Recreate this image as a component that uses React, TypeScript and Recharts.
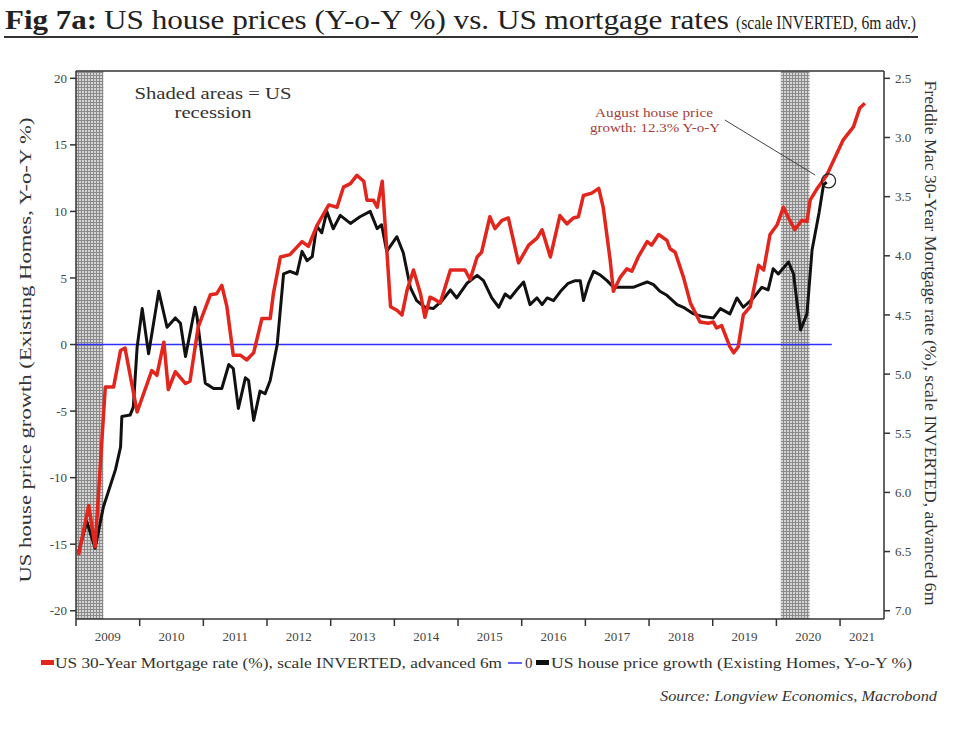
import React from "react";
import {
  LineChart,
  Line,
  XAxis,
  YAxis,
  ReferenceArea,
  ReferenceLine,
  ReferenceDot,
} from "recharts";

// ---------- data ----------
// US house price growth (Existing Homes, Y-o-Y %), left axis
const houseDates = [
  2009.04, 2009.17, 2009.30, 2009.43, 2009.62, 2009.70, 2009.72, 2009.85, 2009.90, 2009.96,
  2010.04, 2010.14, 2010.30, 2010.43, 2010.56, 2010.64, 2010.72, 2010.87, 2010.90,
  2011.03, 2011.16, 2011.29, 2011.40, 2011.47, 2011.55, 2011.66, 2011.71, 2011.79, 2011.89, 2011.97,
  2012.05, 2012.16, 2012.26, 2012.36, 2012.47, 2012.55, 2012.63, 2012.71, 2012.78, 2012.86, 2012.94,
  2013.04, 2013.15, 2013.31, 2013.46, 2013.62, 2013.73, 2013.80, 2013.88,
  2014.04, 2014.14, 2014.25, 2014.35, 2014.48, 2014.61, 2014.75, 2014.88, 2014.98,
  2015.14, 2015.30, 2015.40, 2015.53, 2015.64, 2015.74, 2015.82, 2015.92,
  2016.03, 2016.13, 2016.24, 2016.32, 2016.40, 2016.50, 2016.61, 2016.73, 2016.84, 2016.92, 2016.97,
  2017.05, 2017.13, 2017.24, 2017.34, 2017.44, 2017.60, 2017.75, 2017.86, 2017.97,
  2018.07, 2018.17, 2018.28, 2018.44, 2018.54, 2018.70, 2018.85,
  2019.01, 2019.12, 2019.27, 2019.38, 2019.48, 2019.64, 2019.77, 2019.87, 2019.95,
  2020.03, 2020.19, 2020.27, 2020.32, 2020.38, 2020.48, 2020.56, 2020.67, 2020.74, 2020.79,
];
const houseValues = [
  -15.6, -13.3, -15.3, -12.2, -9.4, -7.7, -5.4, -5.3, -4.7, -0.2,
  2.7, -0.7, 4.0, 1.3, 2.0, 1.6, -0.9, 2.8, 2.1,
  -2.9, -3.3, -3.3, -1.5, -1.8, -4.8, -2.5, -2.7, -5.7, -3.5, -3.7,
  -2.7, 0.0, 5.3, 5.5, 5.3, 7.0, 6.3, 6.6, 8.9, 8.4, 10.0,
  8.7, 9.7, 9.1, 9.6, 10.0, 8.7, 9.0, 7.0,
  8.1, 6.9, 4.3, 3.3, 2.8, 2.7, 3.3, 4.1, 3.5,
  4.6, 5.2, 4.8, 3.5, 2.8, 3.8, 3.5, 4.1,
  4.7, 3.0, 3.5, 3.0, 3.5, 3.3, 4.0, 4.6, 4.8, 4.8, 3.3,
  4.6, 5.5, 5.2, 4.8, 4.3, 4.3, 4.3, 4.5, 4.7,
  4.5, 4.0, 3.7, 3.0, 2.8, 2.3, 2.1,
  2.0, 2.7, 2.3, 3.5, 2.8, 3.5, 4.3, 4.1, 5.7,
  5.3, 6.2, 5.3, 3.3, 1.1, 2.3, 7.1, 9.9, 12.0, 12.2,
];

// US 30-Year Mortgage rate (%), advanced 6m, right axis (inverted)
const rateDates = [
  2009.04, 2009.20, 2009.30, 2009.46, 2009.59, 2009.70, 2009.77, 2009.96,
  2010.19, 2010.27, 2010.38, 2010.45, 2010.56, 2010.72, 2010.79, 2010.92,
  2011.11, 2011.21, 2011.29, 2011.37, 2011.47, 2011.58, 2011.68, 2011.79, 2011.92,
  2012.05, 2012.10, 2012.21, 2012.36, 2012.55, 2012.65, 2012.78, 2012.97,
  2013.10, 2013.20, 2013.31, 2013.41, 2013.52, 2013.57, 2013.67, 2013.73, 2013.81, 2013.94,
  2014.04, 2014.12, 2014.20, 2014.30, 2014.41, 2014.48, 2014.56, 2014.64, 2014.72, 2014.88,
  2015.11, 2015.19, 2015.30, 2015.37, 2015.50, 2015.58, 2015.69, 2015.79, 2015.95,
  2016.11, 2016.24, 2016.32, 2016.45, 2016.60, 2016.71, 2016.81, 2016.89, 2016.97,
  2017.10, 2017.21, 2017.28, 2017.39, 2017.44, 2017.55, 2017.65, 2017.73, 2017.83, 2017.97,
  2018.04, 2018.15, 2018.28, 2018.33, 2018.41, 2018.54, 2018.65, 2018.80, 2018.93,
  2019.01, 2019.06, 2019.14, 2019.27, 2019.33, 2019.40, 2019.48, 2019.59, 2019.72, 2019.80, 2019.90,
  2020.01, 2020.11, 2020.19, 2020.29, 2020.40, 2020.48, 2020.53, 2020.63, 2020.79,
  2021.05, 2021.21, 2021.31, 2021.39,
];
const rateValues = [
  6.53, 6.11, 6.46, 5.11, 5.11, 4.80, 4.78, 5.32,
  4.97, 5.01, 4.73, 5.13, 4.98, 5.08, 5.06, 4.60,
  4.33, 4.32, 4.25, 4.43, 4.84, 4.84, 4.88, 4.82, 4.53,
  4.53, 4.32, 4.01, 3.99, 3.88, 3.92, 3.75, 3.57,
  3.59, 3.42, 3.39, 3.32, 3.37, 3.53, 3.53, 3.59, 3.37, 4.43,
  4.46, 4.50, 4.29, 4.12, 4.32, 4.52, 4.35, 4.37, 4.40, 4.12,
  4.12, 4.20, 4.01, 3.97, 3.67, 3.77, 3.70, 3.68, 4.06,
  3.91, 3.85, 3.78, 4.01, 3.66, 3.73, 3.68, 3.67, 3.49,
  3.47, 3.43, 3.59, 4.04, 4.30, 4.18, 4.11, 4.13, 4.01, 3.88,
  3.91, 3.82, 3.87, 3.94, 3.97, 4.18, 4.40, 4.56, 4.57,
  4.56, 4.61, 4.59, 4.77, 4.82, 4.77, 4.50, 4.43, 4.08, 4.12, 3.82,
  3.74, 3.59, 3.68, 3.78, 3.70, 3.71, 3.53, 3.44, 3.32,
  3.02, 2.91, 2.75, 2.71,
];

// zero line series ("0")
const zeroDates = [2009.0, 2020.87];
const zeroValues = [0, 0];

// US recessions
const recessionStarts = [2009.0, 2020.07];
const recessionEnds = [2009.43, 2020.52];

// axes
const yearTicks = [2009, 2010, 2011, 2012, 2013, 2014, 2015, 2016, 2017, 2018, 2019, 2020, 2021];
const leftTicks = [-20, -15, -10, -5, 0, 5, 10, 15, 20];
const rightTicks = [2.5, 3.0, 3.5, 4.0, 4.5, 5.0, 5.5, 6.0, 6.5, 7.0];

// annotation
const augustDate = 2020.82;
const augustValue = 12.3;
const calloutFrom = { x: 2019.19, y: 16.87 };
const calloutTo = { x: 2020.61, y: 12.73 };

// ---------- layout ----------
const W = 972;
const H = 734;
const X_MIN = 2009;
const X_MAX = 2021.69;
const LEFT_MIN = -20.62;
const LEFT_MAX = 20.55;
const RIGHT_MIN = 2.438;
const RIGHT_MAX = 7.07;
const MARGIN = { top: 71, right: 38, bottom: 85, left: 26 };
const YAXIS_W = 50;
const PLOT_W = W - MARGIN.left - MARGIN.right - 2 * YAXIS_W;
const PX_PER_YEAR = PLOT_W / (X_MAX - X_MIN);

const houseData = houseDates.map((t, i) => ({ t, v: houseValues[i] }));
const rateData = rateDates.map((t, i) => ({ t, v: rateValues[i] }));
const zeroData = zeroDates.map((t, i) => ({ t, v: zeroValues[i] }));

const SERIF = "'Liberation Serif', 'DejaVu Serif', serif";
const AXIS_COLOR = "#333";

const XTick = (props: any) => {
  const { x, y, payload } = props;
  const v = payload.value as number;
  const span = Math.min(v + 1, X_MAX) - v;
  const dx = (span / 2) * PX_PER_YEAR;
  return (
    <text
      x={x + dx}
      y={y + 13}
      textAnchor="middle"
      fontFamily={SERIF}
      fontSize={13}
      fill="#444"
    >
      {v}
    </text>
  );
};

export default function App() {
  return (
    <div
      style={{
        position: "absolute",
        left: 0,
        top: 0,
        width: W,
        height: H,
        background: "#fff",
        overflow: "hidden",
      }}
    >
      <LineChart width={W} height={H} margin={MARGIN}>
        <defs>
          <pattern id="hatch" width="3" height="3" patternUnits="userSpaceOnUse">
            <rect x="0" y="0" width="3" height="3" fill="#d6d6d6" />
            <rect x="0" y="0" width="3" height="1" fill="#8a8a8a" />
            <rect x="0" y="0" width="1" height="3" fill="#8a8a8a" />
          </pattern>
        </defs>
        <XAxis
          type="number"
          dataKey="t"
          domain={[X_MIN, X_MAX]}
          allowDataOverflow
          ticks={yearTicks}
          interval={0}
          height={30}
          tick={<XTick />}
          tickSize={7}
          tickLine={{ stroke: AXIS_COLOR, strokeWidth: 1.5 }}
          axisLine={{ stroke: AXIS_COLOR, strokeWidth: 1.5 }}
        />
        <YAxis
          yAxisId="left"
          type="number"
          domain={[LEFT_MIN, LEFT_MAX]}
          allowDataOverflow
          ticks={leftTicks}
          interval={0}
          width={YAXIS_W}
          tickSize={6}
          tickMargin={3}
          tick={{ fill: "#444", fontSize: 13, fontFamily: SERIF }}
          tickLine={{ stroke: AXIS_COLOR, strokeWidth: 1.5 }}
          axisLine={{ stroke: AXIS_COLOR, strokeWidth: 1.5 }}
        />
        <YAxis
          yAxisId="right"
          orientation="right"
          type="number"
          reversed
          domain={[RIGHT_MIN, RIGHT_MAX]}
          allowDataOverflow
          ticks={rightTicks}
          interval={0}
          width={YAXIS_W}
          tickSize={6}
          tickMargin={5}
          tickFormatter={(v: number) => v.toFixed(1)}
          tick={{ fill: "#444", fontSize: 13, fontFamily: SERIF }}
          tickLine={{ stroke: AXIS_COLOR, strokeWidth: 1.5 }}
          axisLine={{ stroke: AXIS_COLOR, strokeWidth: 1.5 }}
        />
        {recessionStarts.map((s, i) => (
          <ReferenceArea
            key={"rec" + i}
            yAxisId="left"
            x1={s}
            x2={recessionEnds[i]}
            y1={LEFT_MIN}
            y2={LEFT_MAX}
            fill="url(#hatch)"
            fillOpacity={1}
            stroke="none"
          />
        ))}
        <ReferenceLine
          yAxisId="left"
          y={LEFT_MAX}
          stroke={AXIS_COLOR}
          strokeWidth={1.5}
        />
        <Line
          yAxisId="left"
          data={zeroData}
          dataKey="v"
          type="linear"
          stroke="#2f2fff"
          strokeWidth={1.5}
          dot={false}
          isAnimationActive={false}
        />
        <Line
          yAxisId="left"
          data={houseData}
          dataKey="v"
          type="linear"
          stroke="#111"
          strokeWidth={3}
          strokeLinejoin="round"
          dot={false}
          isAnimationActive={false}
        />
        <Line
          yAxisId="right"
          data={rateData}
          dataKey="v"
          type="linear"
          stroke="#e2261d"
          strokeWidth={3.5}
          strokeLinejoin="round"
          dot={false}
          isAnimationActive={false}
        />
        <ReferenceLine
          yAxisId="left"
          segment={[calloutFrom, calloutTo]}
          stroke="#444"
          strokeWidth={1}
          ifOverflow="visible"
        />
        <ReferenceDot
          yAxisId="left"
          x={augustDate}
          y={augustValue}
          r={7}
          fill="none"
          stroke="#222"
          strokeWidth={1.2}
          ifOverflow="visible"
        />
      </LineChart>

      <svg
        width={W}
        height={H}
        style={{ position: "absolute", left: 0, top: 0, pointerEvents: "none" }}
      >
        {/* title */}
        <text x={5} y={29} fontFamily={SERIF} fontSize={27} fontWeight="bold" fill="#222" textLength={92} lengthAdjust="spacingAndGlyphs">
          Fig 7a:
        </text>
        <text x={104} y={29} fontFamily={SERIF} fontSize={27} fill="#222" textLength={625} lengthAdjust="spacingAndGlyphs">
          US house prices (Y-o-Y %) vs. US mortgage rates
        </text>
        <text x={736} y={29} fontFamily={SERIF} fontSize={18} fill="#222" textLength={180} lengthAdjust="spacingAndGlyphs">
          (scale INVERTED, 6m adv.)
        </text>
        <line x1={4} y1={37} x2={918} y2={37} stroke="#333" strokeWidth={2} />

        {/* axis titles */}
        <text
          transform="translate(31,350) rotate(-90)"
          textAnchor="middle"
          fontFamily={SERIF}
          fontSize={17}
          fill="#333"
          textLength={465}
          lengthAdjust="spacingAndGlyphs"
        >
          US house price growth (Existing Homes, Y-o-Y %)
        </text>
        <text
          transform="translate(925,343) rotate(90)"
          textAnchor="middle"
          fontFamily={SERIF}
          fontSize={17}
          fill="#333"
          textLength={525}
          lengthAdjust="spacingAndGlyphs"
        >
          Freddie Mac 30-Year Mortgage rate (%), scale INVERTED, advanced 6m
        </text>

        {/* in-plot annotations */}
        <text x={213} y={99} textAnchor="middle" fontFamily={SERIF} fontSize={17} fill="#333" textLength={157} lengthAdjust="spacingAndGlyphs">
          Shaded areas = US
        </text>
        <text x={213} y={118} textAnchor="middle" fontFamily={SERIF} fontSize={17} fill="#333" textLength={77} lengthAdjust="spacingAndGlyphs">
          recession
        </text>
        <text x={654} y={117} textAnchor="middle" fontFamily={SERIF} fontSize={13} fill="#a3403b" textLength={118} lengthAdjust="spacingAndGlyphs">
          August house price
        </text>
        <text x={655} y={132} textAnchor="middle" fontFamily={SERIF} fontSize={13} fill="#a3403b" textLength={130} lengthAdjust="spacingAndGlyphs">
          growth: 12.3% Y-o-Y
        </text>

        {/* legend */}
        <rect x={41} y={660} width={13} height={5} fill="#e2261d" />
        <text x={55} y={668} fontFamily={SERIF} fontSize={15} fill="#333" textLength={447} lengthAdjust="spacingAndGlyphs">
          US 30-Year Mortgage rate (%), scale INVERTED, advanced 6m
        </text>
        <line x1={508} y1={663} x2={522} y2={663} stroke="#2f2fff" strokeWidth={1.5} />
        <text x={525} y={668} fontFamily={SERIF} fontSize={15} fill="#333">
          0
        </text>
        <rect x={536} y={660} width={13} height={5} fill="#111" />
        <text x={551} y={668} fontFamily={SERIF} fontSize={15} fill="#333" textLength={361} lengthAdjust="spacingAndGlyphs">
          US house price growth (Existing Homes, Y-o-Y %)
        </text>

        {/* source */}
        <text x={937} y={701} textAnchor="end" fontFamily={SERIF} fontSize={15} fontStyle="italic" fill="#333" textLength={277} lengthAdjust="spacingAndGlyphs">
          Source: Longview Economics, Macrobond
        </text>
      </svg>
    </div>
  );
}
